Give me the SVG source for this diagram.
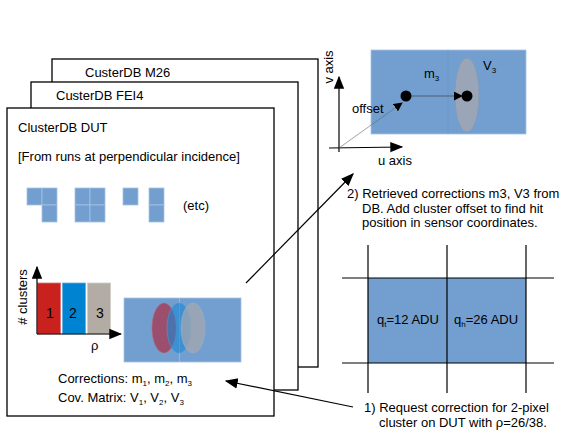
<svg xmlns="http://www.w3.org/2000/svg" width="581" height="436" viewBox="0 0 581 436">
<style>
text{font-family:"Liberation Sans",Arial,sans-serif;font-size:13px;fill:#000}
.box{fill:#fff;stroke:#000;stroke-width:1.3}
.px{fill:#729fcf;stroke:#a8c4e4;stroke-width:0.8}
.ln{stroke:#000;stroke-width:1.2;fill:none}
.sub{font-size:8px}
</style>
<defs>
<marker id="ah" viewBox="0 0 10 10" refX="9" refY="5" markerWidth="9" markerHeight="9" markerUnits="userSpaceOnUse" orient="auto"><path d="M0,0L10,5L0,10z" fill="#000"/></marker>
<marker id="ahb" viewBox="0 0 10 10" refX="9" refY="5" markerWidth="13" markerHeight="13" markerUnits="userSpaceOnUse" orient="auto"><path d="M0,1L10,5L0,9z" fill="#000"/></marker>
</defs>
<g id="db-m26"><rect class="box" x="52" y="59" width="266" height="308"/><text x="85" y="77">CusterDB M26</text></g>
<g id="db-fei4"><rect class="box" x="31" y="82" width="267" height="308"/><text x="56" y="100">CusterDB FEI4</text></g>
<g id="db-dut">
<rect class="box" x="7" y="108" width="267" height="308"/>
<text x="18" y="132">ClusterDB DUT</text>
<text x="18" y="161">[From runs at perpendicular incidence]</text>
<g id="cluster-shapes">
<rect class="px" x="27" y="188" width="15" height="17"/>
<rect class="px" x="42" y="188" width="15" height="17"/>
<rect class="px" x="42" y="205" width="15" height="17"/>
<rect class="px" x="75" y="188" width="15" height="17"/>
<rect class="px" x="90" y="188" width="15" height="17"/>
<rect class="px" x="75" y="205" width="15" height="17"/>
<rect class="px" x="90" y="205" width="15" height="17"/>
<rect class="px" x="123" y="188" width="15" height="17"/>
<rect class="px" x="149" y="188" width="15" height="17"/>
<rect class="px" x="149" y="205" width="15" height="17"/>
<text x="183" y="210">(etc)</text>
</g>
<g id="histogram">
<rect x="37.5" y="283" width="23" height="51" fill="#c9211e" stroke="#e07070" stroke-width="0.8"/>
<rect x="62.5" y="283" width="23" height="51" fill="#0084d1" stroke="#60b0e0" stroke-width="0.8"/>
<rect x="87.5" y="283" width="23" height="51" fill="#b2aca5" stroke="#d0ccc8" stroke-width="0.8"/>
<text x="50" y="318" text-anchor="middle" style="font-size:14px">1</text>
<text x="73" y="318" text-anchor="middle" style="font-size:14px">2</text>
<text x="100" y="318" text-anchor="middle" style="font-size:14px">3</text>
<line class="ln" x1="37" y1="334" x2="37" y2="267" marker-end="url(#ahb)"/>
<line class="ln" x1="37" y1="334" x2="121" y2="334" marker-end="url(#ahb)"/>
<text transform="translate(27,297) rotate(-90)" text-anchor="middle"># clusters</text>
<text x="91" y="350">ρ</text>
</g>
<g id="corrections-map">
<rect x="124" y="298" width="117" height="64" fill="#729fcf" stroke="#a8c4e4" stroke-width="0.8"/>
<line x1="179.5" y1="298" x2="179.5" y2="362" stroke="#9dbde0" stroke-width="0.8"/>
<ellipse cx="164" cy="328" rx="12" ry="25" fill="#a3405c" fill-opacity="0.85" stroke="#b06a80" stroke-width="0.6"/>
<ellipse cx="179" cy="328" rx="12" ry="25" fill="#1a88d6" fill-opacity="0.6" stroke="#4a9ad8" stroke-width="0.6"/>
<ellipse cx="193" cy="328" rx="12" ry="25" fill="#a8a8ac" fill-opacity="0.7" stroke="#9ab0c8" stroke-width="0.6"/>
</g>
<text x="58" y="383">Corrections: m<tspan class="sub" dy="3">1</tspan><tspan dy="-3">, m</tspan><tspan class="sub" dy="3">2</tspan><tspan dy="-3">, m</tspan><tspan class="sub" dy="3">3</tspan></text>
<text x="58" y="402">Cov. Matrix: V<tspan class="sub" dy="3">1</tspan><tspan dy="-3">, V</tspan><tspan class="sub" dy="3">2</tspan><tspan dy="-3">, V</tspan><tspan class="sub" dy="3">3</tspan></text>
</g>
<g id="sensor-coords">
<rect x="371" y="50" width="155" height="84" fill="#729fcf" stroke="#a8c4e4" stroke-width="0.8"/>
<line x1="448" y1="50" x2="448" y2="134" stroke="#6a94c4" stroke-width="0.6"/>
<ellipse cx="467" cy="95" rx="12" ry="37" fill="#9aa6b8" stroke="#8a98ac" stroke-width="0.6"/>
<line x1="406" y1="96" x2="462" y2="96" stroke="#333" stroke-width="0.6" marker-end="url(#ah)"/>
<circle cx="406" cy="96" r="5.5" fill="#000"/>
<circle cx="467" cy="96" r="5.5" fill="#000"/>
<text x="424" y="78">m<tspan class="sub" dy="3">3</tspan></text>
<text x="483" y="70">V<tspan class="sub" dy="3">3</tspan></text>
<line class="ln" x1="339" y1="152" x2="339" y2="77" marker-end="url(#ahb)"/>
<line class="ln" x1="329" y1="148" x2="402" y2="147" marker-end="url(#ahb)"/>
<line x1="339" y1="148" x2="402" y2="103" stroke="#666" stroke-width="0.6" marker-end="url(#ah)"/>
<text transform="translate(333,67) rotate(-90)" text-anchor="middle">v axis</text>
<text x="378" y="165">u axis</text>
<text x="352" y="113">offset</text>
</g>
<g id="step2-text">
<text x="347" y="198">2) Retrieved corrections m3, V3 from</text>
<text x="362" y="213">DB. Add cluster offset to find hit</text>
<text x="362" y="227">position in sensor coordinates.</text>
</g>
<g id="pixel-grid">
<rect x="368" y="278" width="158" height="85" fill="#729fcf"/>
<line class="ln" x1="368" y1="245" x2="368" y2="393"/>
<line class="ln" x1="447" y1="245" x2="447" y2="393"/>
<line class="ln" x1="526" y1="245" x2="526" y2="393"/>
<line class="ln" x1="342" y1="278" x2="554" y2="278"/>
<line class="ln" x1="342" y1="363" x2="554" y2="363"/>
<text x="377" y="324">q<tspan class="sub" dy="3">t</tspan><tspan dy="-3">=12 ADU</tspan></text>
<text x="454" y="324">q<tspan class="sub" dy="3">h</tspan><tspan dy="-3">=26 ADU</tspan></text>
</g>
<g id="step1-text">
<text x="364" y="412">1) Request correction for 2-pixel</text>
<text x="379" y="427">cluster on DUT with ρ=26/38.</text>
</g>
<g id="connectors">
<line class="ln" x1="246" y1="283" x2="353" y2="174" marker-end="url(#ahb)"/>
<line class="ln" x1="353" y1="407" x2="226" y2="381" marker-end="url(#ahb)"/>
</g>
</svg>
